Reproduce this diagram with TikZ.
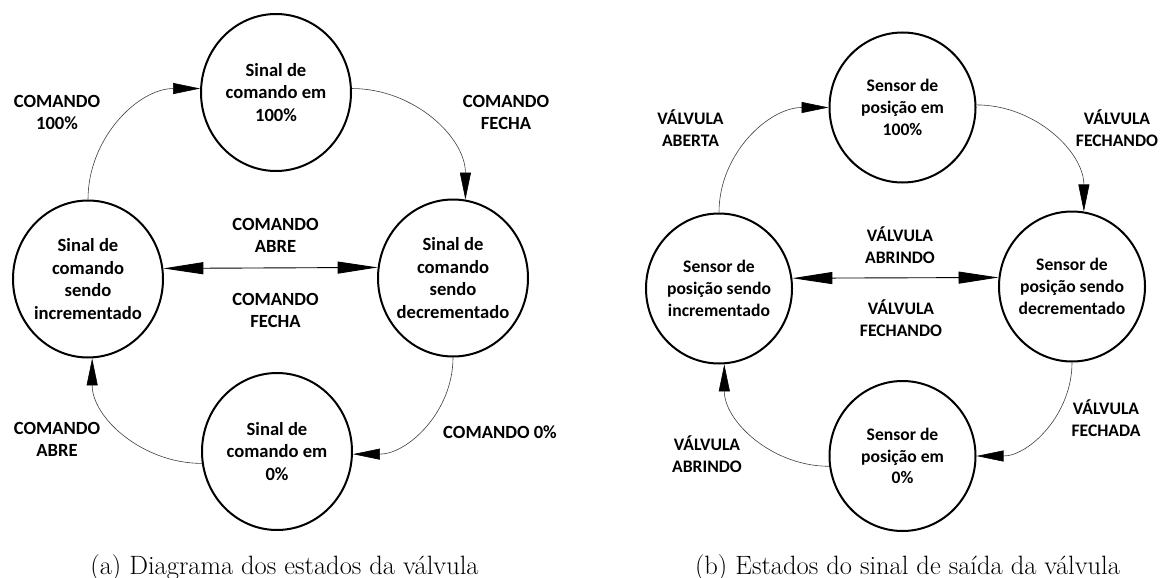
\documentclass[tikz,border=0pt]{standalone}
\usepackage{fontspec}
\usetikzlibrary{shapes.geometric,arrows.meta}
\newfontfamily\carl{Carlito}
\newcommand\labA{\carl\bfseries\fontsize{18.6}{22.7}\selectfont}
\newcommand\labB{\carl\bfseries\fontsize{17.6}{21.7}\selectfont}
\newcommand\capfont{\fontsize{26.5}{30}\selectfont}
\tikzset{
  stA/.style={ellipse, draw, line width=2pt, minimum width=150pt, minimum height=157pt,
    inner xsep=-20pt, inner ysep=0pt, align=center, font=\labA},
  stB/.style={ellipse, draw, line width=2pt, minimum width=146pt, minimum height=150pt,
    inner xsep=-20pt, inner ysep=0pt, align=center, font=\labB},
  lblA/.style={align=center, font=\labA, inner sep=0pt},
  lblB/.style={align=center, font=\labB, inner sep=0pt},
  cv/.style={line width=0.6pt, draw=black!75, -{Triangle[length=27pt,width=11pt,color=black]}},
  hz/.style={line width=0.9pt, {Triangle[length=40pt,width=12pt]}-{Triangle[length=40pt,width=12pt]}},
  captext/.style={anchor=base, font=\capfont, inner sep=0pt}
}
\begin{document}
\begin{tikzpicture}[x=1pt,y=1pt]
\useasboundingbox[fill=white] (0,0) rectangle (1162,-578);
% left diagram
\node[stA] (T1) at (276,-92.5) {Sinal de\\comando em\\100\%};
\node[stA] (L1) at (88,-279) {Sinal de\\comando\\sendo\\incrementado};
\node[stA] (R1) at (453,-278) {Sinal de\\comando\\sendo\\decrementado};
\node[stA] (B1) at (277,-451.5) {Sinal de\\comando em\\0\%};
\draw[cv] (L1.north) to[out=90,in=180] (T1.177);
\draw[cv] (T1.3) to[out=0,in=90] (R1.81);
\draw[cv] (R1.south) to[out=-90,in=0] (B1.358);
\draw[cv] (B1.189) to[out=180,in=-90] (L1.273);
\draw[hz] (L1.8) -- (R1.172);
\node[lblA] (a1) at (57,-112.5) {COMANDO\\100\%};
\node[lblA] (a2) at (506,-112.5) {COMANDO\\FECHA};
\node[lblA] (a3) at (275.5,-235.5) {COMANDO\\ABRE};
\node[lblA] (a4) at (275.5,-310.5) {COMANDO\\FECHA};
\node[lblA] (a5) at (57,-439.5) {COMANDO\\ABRE};
\node[lblA] (a6) at (500,-432) {COMANDO 0\%};
\node[captext] (capa) at (284.5,-574) {(a) Diagrama dos estados da válvula};
% right diagram
\node[stB] (T2) at (902.5,-107.5) {Sensor de\\posição em\\100\%};
\node[stB] (L2) at (719,-288.5) {Sensor de\\posição sendo\\incrementado};
\node[stB] (R2) at (1072,-286.5) {Sensor de\\posição sendo\\decrementado};
\node[stB] (B2) at (902.5,-456) {Sensor de\\posição em\\0\%};
\draw[cv] (L2.north) to[out=90,in=180] (T2.west);
\draw[cv] (T2.2) to[out=0,in=90] (R2.81);
\draw[cv] (R2.south) to[out=-90,in=0] (B2.east);
\draw[cv] (B2.188) to[out=180,in=-90] (L2.274);
\draw[hz] (L2.8) -- (R2.173);
\node[lblB] (b1) at (690.5,-128) {VÁLVULA\\ABERTA};
\node[lblB] (b2) at (1117,-128) {VÁLVULA\\FECHANDO};
\node[lblB] (b3) at (900,-245) {VÁLVULA\\ABRINDO};
\node[lblB] (b4) at (901,-318.5) {VÁLVULA\\FECHANDO};
\node[lblB] (b5) at (1106,-418.5) {VÁLVULA\\FECHADA};
\node[lblB] (b6) at (707,-454) {VÁLVULA\\ABRINDO};
\node[captext] (capb) at (907.5,-574) {(b) Estados do sinal de saída da válvula};
\end{tikzpicture}
\end{document}
